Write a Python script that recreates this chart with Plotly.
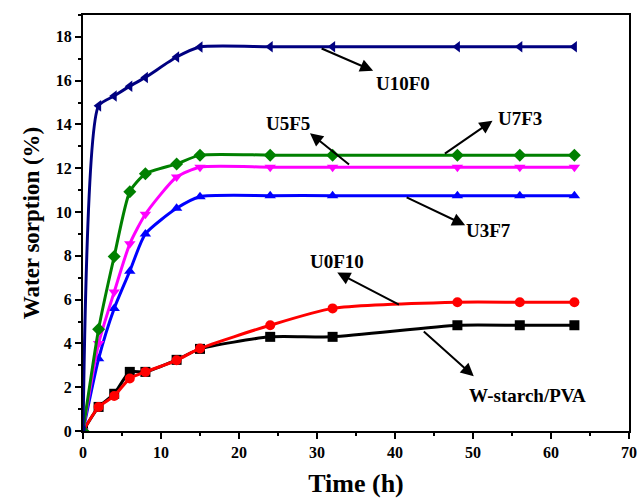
import plotly.graph_objects as go

time_h = [0, 2, 4, 6, 8, 12, 15, 24, 32, 48, 56, 63]

u10f0 = [0, 14.85, 15.3, 15.75, 16.15, 17.08, 17.54, 17.55, 17.55, 17.55, 17.55, 17.55]
u7f3 = [0, 4.65, 7.97, 10.93, 11.75, 12.2, 12.6, 12.6, 12.6, 12.6, 12.6, 12.6]
u5f5 = [0, 4.0, 6.35, 8.55, 9.9, 11.6, 12.05, 12.05, 12.05, 12.05, 12.05, 12.05]
u3f7 = [0, 3.3, 5.6, 7.3, 9.0, 10.17, 10.7, 10.75, 10.75, 10.75, 10.75, 10.75]
u0f10 = [0, 1.1, 1.6, 2.4, 2.7, 3.23, 3.77, 4.83, 5.6, 5.88, 5.88, 5.88]
wstarch = [0, 1.1, 1.7, 2.7, 2.7, 3.25, 3.75, 4.3, 4.3, 4.83, 4.83, 4.83]

series = [
    ("W-starch/PVA", wstarch, "#000000", "square"),
    ("U0F10", u0f10, "#ff0000", "circle"),
    ("U3F7", u3f7, "#0000ff", "triangle-up"),
    ("U5F5", u5f5, "#ff00ff", "triangle-down"),
    ("U7F3", u7f3, "#008000", "diamond"),
    ("U10F0", u10f0, "#000080", "triangle-left"),
]

fig = go.Figure()
for name, vals, color, sym in series:
    fig.add_trace(go.Scatter(
        x=time_h, y=vals, name=name, mode="lines+markers",
        line=dict(color=color, width=3, shape="spline", smoothing=0.6),
        marker=dict(color=color, symbol=sym, size=10),
        showlegend=False,
    ))

# labels: (text, tail_x, tail_y, head_x, head_y, text_x, text_y)
labels = [
    ("U10F0", 30.4, 17.5, 37.2, 16.45, 41.0, 15.85),
    ("U7F3", 46.2, 12.62, 52.5, 14.17, 56.0, 14.26),
    ("U5F5", 34.3, 12.12, 29.1, 13.6, 26.3, 14.05),
    ("U3F7", 41.3, 10.7, 49.0, 9.4, 52.0, 9.16),
    ("U0F10", 40.7, 5.74, 32.6, 7.24, 32.6, 7.75),
    ("W-starch/PVA", 43.5, 4.6, 50.1, 2.5, 57.0, 1.64),
]
for text, tx, ty, hx, hy, lx, ly in labels:
    fig.add_annotation(x=hx, y=hy, ax=tx, ay=ty, xref="x", yref="y",
                       axref="x", ayref="y", text="", showarrow=True,
                       arrowhead=2, arrowsize=1.3, arrowwidth=2,
                       arrowcolor="black")
    fig.add_annotation(x=lx, y=ly, xref="x", yref="y", text="<b>%s</b>" % text,
                       showarrow=False, font=dict(family="Liberation Serif", size=19, color="black"))

axis_common = dict(
    showline=True, linecolor="black", linewidth=2, mirror=True,
    ticks="outside", ticklen=6, tickwidth=2, tickcolor="black",
    showgrid=False, zeroline=False, automargin=False,
    tickfont=dict(family="Liberation Serif", size=16, color="black"),
    minor=dict(ticks="outside", ticklen=3, tickwidth=2, tickcolor="black"),
)

fig.update_xaxes(range=[0, 70], dtick=10, tick0=0,
                 title=dict(text="<b>Time (h)</b>", font=dict(family="Liberation Serif", size=26, color="black"), standoff=14),
                 tickprefix="<b>", ticksuffix="</b>", minor_dtick=5, **axis_common)
fig.update_yaxes(range=[0, 19], dtick=2, tick0=0,
                 title=dict(text="<b>Water sorption (%)</b>", font=dict(family="Liberation Serif", size=23, color="black"), standoff=10),
                 tickprefix="<b>", ticksuffix="</b>", minor_dtick=1, **axis_common)

fig.update_layout(
    width=637, height=498,
    margin=dict(l=83, r=8, t=15, b=67),
    plot_bgcolor="white", paper_bgcolor="white",
)

fig.write_html("out.html")
